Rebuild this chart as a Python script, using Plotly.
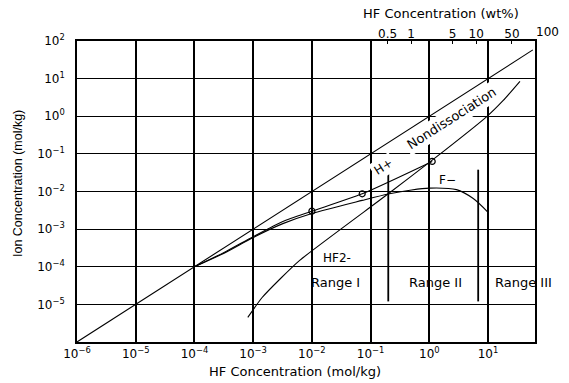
import plotly.graph_objects as go

# ---- data (HF concentration in mol/kg, ion concentration in mol/kg) ----
nondiss_x = [1e-6, 58]
nondiss_y = [1e-6, 58]

hplus_x = [1e-4, 3.2e-4, 1e-3, 3.2e-3, 1e-2, 7.2e-2, 1.12]
hplus_y = [1e-4, 2.4e-4, 6.3e-4, 1.6e-3, 3.0e-3, 8.7e-3, 6.3e-2]

fminus_x = [1e-4, 3.2e-4, 1e-3, 3.2e-3, 1e-2, 7.2e-2, 0.21, 0.5, 1.0, 2.9, 5.6, 10]
fminus_y = [1e-4, 2.3e-4, 6.0e-4, 1.4e-3, 2.6e-3, 5.8e-3, 8.7e-3, 1.1e-2, 1.23e-2, 1.12e-2, 6.5e-3, 2.8e-3]

hf2_x = [8.1e-4, 1.41e-3, 2.9e-3, 6.2e-3, 0.2, 1.12, 9.3, 18, 35]
hf2_y = [4.5e-6, 1.5e-5, 4.8e-5, 1.48e-4, 8.7e-3, 6.8e-2, 0.95, 2.6, 8.5]

# measured points marked on the H+ line
mark_x = [1e-2, 7.2e-2, 1.12]
mark_y = [3.0e-3, 8.7e-3, 6.3e-2]

# boundaries between concentration ranges
range_bounds = [0.2, 6.8]
range_span = [1.2e-5, 3.8e-2]

# axis ticks
x_exponents = [-6, -5, -4, -3, -2, -1, 0, 1]
y_exponents = [-5, -4, -3, -2, -1, 0, 1, 2]
wt_labels = ["0.5", "1", "5", "10", "50"]
wt_pos_molkg = [0.195, 0.49, 2.5, 6.3, 25.5]

FONT = "DejaVu Sans, Verdana, sans-serif"
BLACK = "#000000"


def sup_label(e):
    s = str(e).replace("-", "\u2212")
    return f"10<sup>{s}</sup>"


fig = go.Figure()

fig.add_trace(go.Scatter(x=nondiss_x, y=nondiss_y, mode="lines",
                         line=dict(color=BLACK, width=1.1), hoverinfo="skip"))
fig.add_trace(go.Scatter(x=hplus_x, y=hplus_y, mode="lines",
                         line=dict(color=BLACK, width=1.1, shape="spline", smoothing=0.6),
                         hoverinfo="skip"))
fig.add_trace(go.Scatter(x=fminus_x, y=fminus_y, mode="lines",
                         line=dict(color=BLACK, width=1.1, shape="spline", smoothing=0.8),
                         hoverinfo="skip"))
fig.add_trace(go.Scatter(x=hf2_x, y=hf2_y, mode="lines",
                         line=dict(color=BLACK, width=1.1, shape="spline", smoothing=0.6),
                         hoverinfo="skip"))
fig.add_trace(go.Scatter(x=mark_x, y=mark_y, mode="markers",
                         marker=dict(symbol="circle-open", size=6, color=BLACK,
                                     line=dict(width=1.2, color=BLACK)),
                         hoverinfo="skip"))
for b in range_bounds:
    fig.add_trace(go.Scatter(x=[b, b], y=range_span, mode="lines",
                             line=dict(color=BLACK, width=1.8), hoverinfo="skip"))

# invisible trace anchoring the top (wt%) axis
fig.add_trace(go.Scatter(x=[wt_pos_molkg[0]], y=[1e-3], xaxis="x2", mode="markers",
                         marker=dict(opacity=0), hoverinfo="skip"))

fig.update_layout(
    width=569, height=383, autosize=False,
    margin=dict(l=77, r=34, t=41, b=41),
    paper_bgcolor="white", plot_bgcolor="white",
    showlegend=False,
    font=dict(family=FONT, size=12, color=BLACK),
    xaxis=dict(
        type="log", range=[-6, 1.8],
        tickvals=[10.0 ** e for e in x_exponents],
        ticktext=[sup_label(e) for e in x_exponents],
        showgrid=True, gridcolor=BLACK, gridwidth=1.5,
        zeroline=False, showline=True, linecolor=BLACK, linewidth=1.5, mirror=True,
        ticks="", ticklabelstandoff=0,
        tickfont=dict(family=FONT, size=12),
    ),
    xaxis2=dict(
        type="log", range=[-6, 1.8], overlaying="x", side="top",
        tickvals=wt_pos_molkg, ticktext=wt_labels,
        ticks="inside", ticklen=3, tickwidth=1, tickcolor=BLACK,
        showgrid=False, zeroline=False, showline=False,
        tickfont=dict(family=FONT, size=12),
    ),
    yaxis=dict(
        type="log", range=[-6, 2],
        tickvals=[10.0 ** e for e in y_exponents],
        ticktext=[sup_label(e) for e in y_exponents],
        showgrid=True, gridcolor=BLACK, gridwidth=1,
        zeroline=False, showline=True, linecolor=BLACK, linewidth=1.5, mirror=True,
        ticks="", ticklabelstandoff=8,
        tickfont=dict(family=FONT, size=12),
    ),
)


def paper_x(px):
    return (px - 77) / 458.0


def paper_y(py):
    return (342.3 - py) / 301.6


annots = [
    dict(text="Nondissociation", x=paper_x(451), y=paper_y(118), textangle=-32.7,
         font=dict(size=13), bgcolor="white", borderpad=2),
    dict(text="H+", x=paper_x(383), y=paper_y(167), textangle=-32.7,
         font=dict(size=12), bgcolor="white", borderpad=2),
    dict(text="F\u2212", x=paper_x(447), y=paper_y(180), font=dict(size=12)),
    dict(text="HF2-", x=paper_x(336.7), y=paper_y(258.3), font=dict(size=12)),
    dict(text="Range I", x=paper_x(335), y=paper_y(282.3), font=dict(size=13)),
    dict(text="Range II", x=paper_x(435), y=paper_y(282.3), font=dict(size=13)),
    dict(text="Range III", x=paper_x(523), y=paper_y(282.3), font=dict(size=13)),
    dict(text="HF Concentration (wt%)", x=paper_x(441), y=paper_y(13.3), font=dict(size=13)),
    dict(text="100", x=paper_x(547), y=paper_y(31.7), font=dict(size=12)),
    dict(text="HF Concentration (mol/kg)", x=paper_x(295), y=paper_y(372), font=dict(size=13)),
    dict(text="Ion Concentration (mol/kg)", x=paper_x(18), y=paper_y(184), textangle=-90,
         font=dict(size=12.5, family="Liberation Sans, Arial, sans-serif")),
]
for a in annots:
    a.setdefault("xref", "paper")
    a.setdefault("yref", "paper")
    a.setdefault("showarrow", False)
    a.setdefault("xanchor", "center")
    a.setdefault("yanchor", "middle")
    fig.add_annotation(**a)

fig.write_html("out.html")
